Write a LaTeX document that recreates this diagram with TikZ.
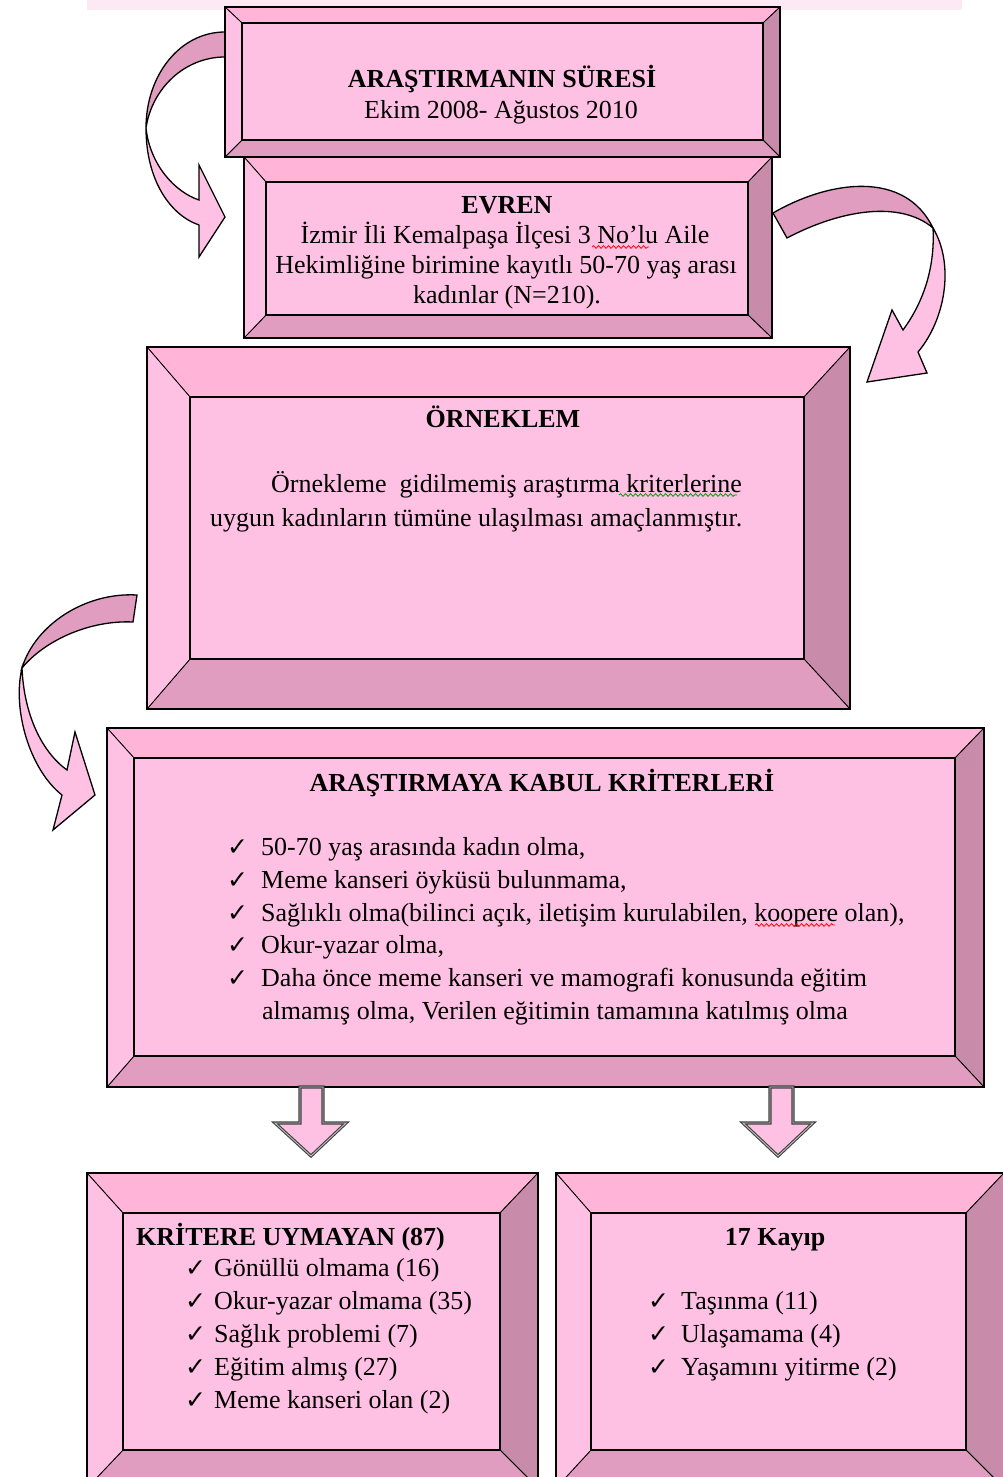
\documentclass[tikz,border=0pt]{standalone}
\usepackage{fontspec}
\setmainfont{Liberation Serif}
\newfontfamily\symfont{DejaVu Sans}
\usetikzlibrary{decorations.pathmorphing}

\definecolor{facepink}{HTML}{FFC1E3}
\definecolor{topbevel}{HTML}{FFB4D8}
\definecolor{rightbevel}{HTML}{C98BAA}
\definecolor{bottombevel}{HTML}{E09DBF}
\definecolor{stripink}{HTML}{FDE9F4}

\tikzset{
  bodytext/.style={font=\fontsize{26}{30}\selectfont, inner sep=0pt},
  titletext/.style={font=\fontsize{26}{30}\selectfont\bfseries, inner sep=0pt},
  bevel/.style={draw=black, line width=0.8},
  outerline/.style={draw=black, line width=1.4},
  innerline/.style={draw=black, line width=1.8},
  arrowline/.style={draw=black, line width=1.3, line join=miter},
  downarrow/.style={fill=facepink, draw=black!75, double=black!25,
    double distance=0.9, line width=1.1},
  spellred/.style={red, line width=0.8, decorate,
    decoration={snake, amplitude=1.3, segment length=5}},
  spellgreen/.style={spellred, green!60!black}
}

% bevelled frame: name, outer top-left, outer bottom-right,
% inner top-left, inner bottom-right
\newcommand{\bevelbox}[5]{%
  \coordinate (#1-otl) at #2;
  \coordinate (#1-obr) at #3;
  \coordinate (#1-itl) at #4;
  \coordinate (#1-ibr) at #5;
  \coordinate (#1-otr) at (#1-obr |- #1-otl);
  \coordinate (#1-obl) at (#1-otl |- #1-obr);
  \coordinate (#1-itr) at (#1-ibr |- #1-itl);
  \coordinate (#1-ibl) at (#1-itl |- #1-ibr);
  \fill[facepink] (#1-itl) rectangle (#1-ibr);
  \filldraw[bevel, fill=topbevel]
    (#1-otl) -- (#1-otr) -- (#1-itr) -- (#1-itl) -- cycle;
  \filldraw[bevel, fill=rightbevel]
    (#1-otr) -- (#1-obr) -- (#1-ibr) -- (#1-itr) -- cycle;
  \filldraw[bevel, fill=bottombevel]
    (#1-obr) -- (#1-obl) -- (#1-ibl) -- (#1-ibr) -- cycle;
  \filldraw[bevel, fill=facepink]
    (#1-obl) -- (#1-otl) -- (#1-itl) -- (#1-ibl) -- cycle;
  \draw[outerline] (#1-otl) rectangle (#1-obr);
  \draw[innerline] (#1-itl) rectangle (#1-ibr);
}
\newcommand{\chk}[1][34pt]{\makebox[#1][l]{\symfont\fontsize{25}{25}\selectfont ✓}}

\begin{document}
\begin{tikzpicture}[x=1pt, y=-1pt]
    \useasboundingbox (0,0) rectangle (1003,1477);
    \clip (0,0) rectangle (1003,1477);

    %% Top strip
    \fill[stripink] (87,0) rectangle (962,10);

    %% Curved arrows
    \filldraw[arrowline, fill=bottombevel]
        (225,32) .. controls (180,32) and (146,75) .. (146,128)
        .. controls (152,88) and (185,57) .. (225,57) -- cycle;
    \filldraw[arrowline, fill=facepink]
        (146,128) .. controls (146,180) and (170,215) .. (199,225)
        -- (199,257) -- (225,217) -- (199,165) -- (199,200)
        .. controls (175,192) and (150,165) .. (146,128) -- cycle;

    \filldraw[arrowline, fill=bottombevel]
        (773,213) .. controls (830,180) and (905,170) .. (933,228)
        .. controls (900,200) and (840,210) .. (787,238) -- cycle;
    \filldraw[arrowline, fill=facepink]
        (933,228) .. controls (955,265) and (945,320) .. (918,352)
        -- (927,373) -- (867,382) -- (892,310) -- (903,330)
        .. controls (925,300) and (935,265) .. (933,228) -- cycle;

    \filldraw[arrowline, fill=bottombevel]
        (137,595) .. controls (85,592) and (35,625) .. (22,668)
        .. controls (45,640) and (90,620) .. (133,622) -- cycle;
    \filldraw[arrowline, fill=facepink]
        (22,668) .. controls (12,710) and (30,770) .. (62,795)
        -- (53,830) -- (95,795) -- (75,732) -- (67,770)
        .. controls (42,752) and (24,715) .. (22,668) -- cycle;

    %% Frames
    \bevelbox{evren}{(244,157)}{(772,338)}{(266,182)}{(748,315)}
    \bevelbox{sure}{(225,7)}{(780,157)}{(242,23)}{(763,140)}
    \bevelbox{orneklem}{(147,347)}{(850,709)}{(190,397)}{(804,659)}
    \bevelbox{kabul}{(107,728)}{(984,1087)}{(134,758)}{(955,1056)}
    \bevelbox{uymayan}{(87,1173)}{(538,1488)}{(123,1213)}{(500,1450)}
    \bevelbox{kayip}{(556,1173)}{(1004,1488)}{(591,1213)}{(966,1450)}

    %% Down arrows
    \filldraw[downarrow] (300,1087) -- (323,1087) -- (323,1123) -- (346,1123)
        -- (311,1156) -- (275,1123) -- (300,1123) -- cycle;
    \filldraw[downarrow] (770,1087) -- (793,1087) -- (793,1123) -- (813,1123)
        -- (778,1156) -- (743,1123) -- (770,1123) -- cycle;

    %% Duration
    \node[titletext, anchor=base] (suretitle) at (502,88) {ARAŞTIRMANIN SÜRESİ};
    \node[bodytext, anchor=base] (suredate) at (501,119) {Ekim 2008- Ağustos 2010};

    %% Population
    \node[titletext, anchor=base] (evrentitle) at (507,213) {EVREN};
    \node[bodytext, anchor=base] (evren1) at (505,243)
        {İzmir İli Kemalpaşa İlçesi 3 No'lu Aile};
    \node[bodytext, anchor=base] (evren2) at (506,273)
        {Hekimliğine birimine kayıtlı 50-70 yaş arası};
    \node[bodytext, anchor=base] (evren3) at (507,303) {kadınlar (N=210).};

    %% Sample
    \node[titletext, anchor=base] (orntitle) at (503,427) {ÖRNEKLEM};
    \node[bodytext, anchor=base west] (orn1) at (271,492)
        {Örnekleme\ \ gidilmemiş araştırma kriterlerine};
    \node[bodytext, anchor=base west] (orn2) at (210,526)
        {uygun kadınların tümüne ulaşılması amaçlanmıştır.};

    %% Inclusion criteria
    \node[titletext, anchor=base] (kabultitle) at (542,791)
        {ARAŞTIRMAYA KABUL KRİTERLERİ};
    \node[bodytext, anchor=base west] (kabul1) at (227,855)
        {\chk 50-70 yaş arasında kadın olma,};
    \node[bodytext, anchor=base west] (kabul2) at (227,888)
        {\chk Meme kanseri öyküsü bulunmama,};
    \node[bodytext, anchor=base west] (kabul3) at (227,921)
        {\chk Sağlıklı olma(bilinci açık, iletişim kurulabilen, koopere olan),};
    \node[bodytext, anchor=base west] (kabul4) at (227,953)
        {\chk Okur-yazar olma,};
    \node[bodytext, anchor=base west] (kabul5) at (227,986)
        {\chk Daha önce meme kanseri ve mamografi konusunda eğitim};
    \node[bodytext, anchor=base west] (kabul6) at (262,1019)
        {almamış olma, Verilen eğitimin tamamına katılmış olma};

    %% Excluded
    \node[titletext, anchor=base west] (uytitle) at (136,1245)
        {KRİTERE UYMAYAN (87)};
    \node[bodytext, anchor=base west] (uy1) at (185,1276)
        {\chk[29pt]Gönüllü olmama (16)};
    \node[bodytext, anchor=base west] (uy2) at (185,1309)
        {\chk[29pt]Okur-yazar olmama (35)};
    \node[bodytext, anchor=base west] (uy3) at (185,1342)
        {\chk[29pt]Sağlık problemi (7)};
    \node[bodytext, anchor=base west] (uy4) at (185,1375)
        {\chk[29pt]Eğitim almış (27)};
    \node[bodytext, anchor=base west] (uy5) at (185,1408)
        {\chk[29pt]Meme kanseri olan (2)};

    %% Lost
    \node[titletext, anchor=base] (kayiptitle) at (775,1245) {17 Kayıp};
    \node[bodytext, anchor=base west] (kayip1) at (648,1309)
        {\chk[33pt]Taşınma (11)};
    \node[bodytext, anchor=base west] (kayip2) at (648,1342)
        {\chk[33pt]Ulaşamama (4)};
    \node[bodytext, anchor=base west] (kayip3) at (648,1375)
        {\chk[33pt]Yaşamını yitirme (2)};

    %% Spelling marks
    \draw[spellred] (592,247) -- (649,247);
    \draw[spellgreen] (619,495) -- (737,495);
    \draw[spellred] (755,925) -- (835,925);
\end{tikzpicture}
\end{document}
